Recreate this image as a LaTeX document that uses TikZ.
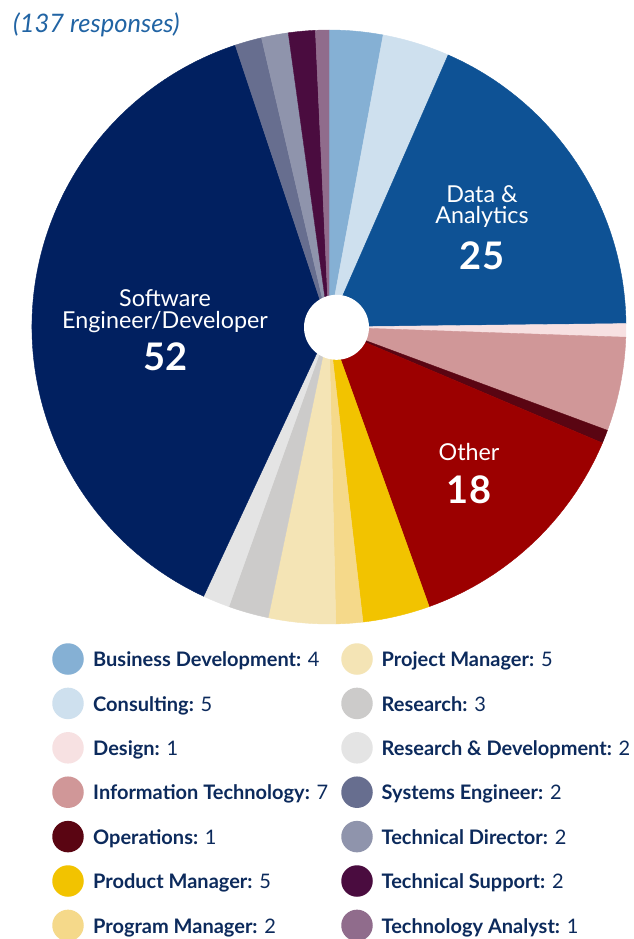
\documentclass[tikz,border=0pt]{standalone}
\usepackage{fontspec}
\setmainfont{Lato}
\definecolor{cBD}{HTML}{85B0D4}
\definecolor{cCons}{HTML}{CEE0EE}
\definecolor{cDA}{HTML}{0E5295}
\definecolor{cDes}{HTML}{F7E1E2}
\definecolor{cIT}{HTML}{D09798}
\definecolor{cOps}{HTML}{5A0512}
\definecolor{cOth}{HTML}{9C0000}
\definecolor{cProd}{HTML}{F2C300}
\definecolor{cProg}{HTML}{F5D98A}
\definecolor{cProj}{HTML}{F4E4B5}
\definecolor{cRes}{HTML}{CCCBCA}
\definecolor{cRD}{HTML}{E4E4E4}
\definecolor{cSE}{HTML}{012060}
\definecolor{cSys}{HTML}{676E8F}
\definecolor{cTD}{HTML}{8F94AC}
\definecolor{cTS}{HTML}{4A0C3F}
\definecolor{cTA}{HTML}{906C8C}
\definecolor{navy}{HTML}{0C2A5C}
\definecolor{titleblue}{HTML}{2164A4}
\begin{document}
\begin{tikzpicture}[x=1pt,y=1pt,
  lbl/.style={text=white, font=\fontsize{23.3}{21.5}\selectfont, inner sep=0pt, align=center, anchor=base},
  num/.style={text=white, font=\fontsize{38}{40}\selectfont\bfseries, inner sep=0pt, anchor=base},
  legtext/.style={text=navy, font=\fontsize{20}{24}\selectfont, inner sep=0pt, anchor=base west},
  legdot/.style={circle, minimum size=31.5pt, inner sep=0pt},
  slice/.style={fill=#1, draw=#1, line width=0.4pt}]
\useasboundingbox (0,0) rectangle (633,-939);
\fill[white] (0,0) rectangle (633,-939);
% title fragment
\node[text=titleblue, font=\fontsize{25.5}{27}\selectfont\itshape, inner sep=0pt, anchor=base west] (resp) at (13,-32.5) {(137 responses)};
% pie
\coordinate (ctr) at (329,-327);
\foreach \s/\e/\c in {0/4/cBD, 4/9/cCons, 9/34/cDA, 34/35/cDes, 35/42/cIT, 42/43/cOps, 43/61/cOth, 61/66/cProd, 66/68/cProg, 68/73/cProj, 73/76/cRes, 76/78/cRD, 78/130/cSE, 130/132/cSys, 132/134/cTD, 134/136/cTS, 136/137/cTA}{
  \pgfmathsetmacro{\sa}{90-\s*2.6277372}
  \pgfmathsetmacro{\ea}{90-\e*2.6277372}
  \draw[slice=\c] (ctr) -- ++(\sa:297pt) arc[start angle=\sa, end angle=\ea, radius=297pt] -- cycle;
}
\fill[white] (336.5,-327.3) circle[radius=32.5pt];
% slice labels
\node[lbl] (da1) at (482,-223.5) {Data \&\\Analytics};
\node[num] (da3) at (482,-269) {25};
\node[lbl] (se1) at (165,-328.3) {Software\\Engineer/Developer};
\node[num] (se3) at (165.5,-370) {52};
\node[lbl] (ot1) at (469,-460.7) {Other};
\node[num] (ot2) at (469,-503) {18};
% legend
\foreach \i/\c/\t/\n in {0/cBD/Business Development/4, 1/cCons/Consulting/5, 2/cDes/Design/1, 3/cIT/Information Technology/7, 4/cOps/Operations/1, 5/cProd/Product Manager/5, 6/cProg/Program Manager/2}{
  \node[legdot, fill=\c] (ldot\i) at (68,{-(659+44.4*\i)}) {};
  \node[legtext] (ltxt\i) at (93,{-(659+44.4*\i+7.7)}) {\textbf{\t:} \n};
}
\foreach \i/\c/\t/\n in {0/cProj/Project Manager/5, 1/cRes/Research/3, 2/cRD/Research \& Development/2, 3/cSys/Systems Engineer/2, 4/cTD/Technical Director/2, 5/cTS/Technical Support/2, 6/cTA/Technology Analyst/1}{
  \node[legdot, fill=\c] (rdot\i) at (357,{-(659+44.4*\i)}) {};
  \node[legtext] (rtxt\i) at (381.5,{-(659+44.4*\i+7.7)}) {\textbf{\t:} \n};
}
\end{tikzpicture}
\end{document}
